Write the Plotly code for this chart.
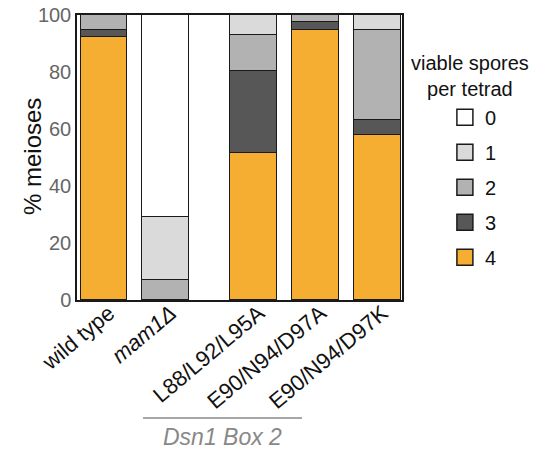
import plotly.graph_objects as go

categories = ["wild type", "<i>mam1Δ</i>", "L88/L92/L95A", "E90/N94/D97A", "E90/N94/D97K"]
positions = [0, 1, 2.43, 3.43, 4.43]

# % meioses by number of viable spores per tetrad
spores4 = [92.2, 0, 51.6, 94.7, 57.9]
spores3 = [2.6, 0, 28.9, 2.7, 5.3]
spores2 = [5.2, 7.0, 12.5, 2.6, 31.4]
spores1 = [0, 22.2, 7.0, 0, 5.4]
spores0 = [0, 70.8, 0, 0, 0]

series = [("4", spores4, "#F5AE32"), ("3", spores3, "#575757"),
          ("2", spores2, "#B2B2B2"), ("1", spores1, "#DADADA"),
          ("0", spores0, "#FFFFFF")]

FONT = "Arial, Liberation Sans, sans-serif"
fig = go.Figure()
for name, vals, col in series:
    fig.add_trace(go.Bar(x=positions, y=vals, width=0.76, marker=dict(color=col, line=dict(color="#1a1a1a", width=1.5)),
                         showlegend=False, name=name))
for name, vals, col in reversed(series):
    fig.add_trace(go.Scatter(x=[None], y=[None], mode="markers", name=name, legendgroup=name,
                             marker=dict(symbol="square", size=16, color=col, line=dict(color="#1a1a1a", width=1.5))))

fig.update_layout(
    barmode="stack", width=551, height=449,
    margin=dict(l=77, r=149, t=15, b=149, autoexpand=False),
    paper_bgcolor="white", plot_bgcolor="white",
    font=dict(family=FONT, color="#111"),
    bargap=0,
    legend=dict(x=1.132, xanchor="left", y=0.71, yanchor="top", traceorder="grouped",
                tracegroupgap=6, font=dict(size=20, color="#111"), bgcolor="rgba(0,0,0,0)"),
)
fig.update_xaxes(range=[-0.4376, 4.83], tickvals=positions, ticktext=categories, tickangle=-40,
                 tickfont=dict(size=22, color="#111"), showline=True, mirror=True, linecolor="#1a1a1a",
                 linewidth=1.5, showgrid=False, ticks="", zeroline=False, automargin=False,
                 ticklabelstandoff=-10, ticklabelshift=5)
fig.update_yaxes(range=[0, 100], tickvals=[0, 20, 40, 60, 80, 100], tickfont=dict(size=20, color="#666"),
                 showline=True, mirror=True, linecolor="#1a1a1a", linewidth=1.5, showgrid=False,
                 ticks="", zeroline=False, automargin=False, ticklabeloverflow="allow")

fig.add_annotation(text="% meioses", xref="paper", yref="paper", textangle=-90,
                   x=(32 - 77) / 325, y=(300 - 157) / 285, xanchor="center", yanchor="middle",
                   showarrow=False, font=dict(size=24, color="#111"))
fig.add_annotation(text="viable spores<br>per tetrad", xref="paper", yref="paper",
                   x=(470 - 77) / 325, y=(300 - 76) / 285, xanchor="center", yanchor="middle",
                   showarrow=False, font=dict(size=20, color="#111"), align="center")
fig.add_shape(type="line", xref="paper", yref="paper", x0=(143 - 77) / 325, x1=(302 - 77) / 325,
              y0=(300 - 418) / 285, y1=(300 - 418) / 285, line=dict(color="#888", width=1.5))
fig.add_annotation(text="<i>Dsn1 Box 2</i>", xref="paper", yref="paper",
                   x=(222 - 77) / 325, y=(300 - 437) / 285, xanchor="center", yanchor="middle",
                   showarrow=False, font=dict(size=23, color="#888"))

fig.write_html("out.html", config={"displayModeBar": False},
               post_script="document.body.style.margin='0';document.body.style.overflow='hidden';")
